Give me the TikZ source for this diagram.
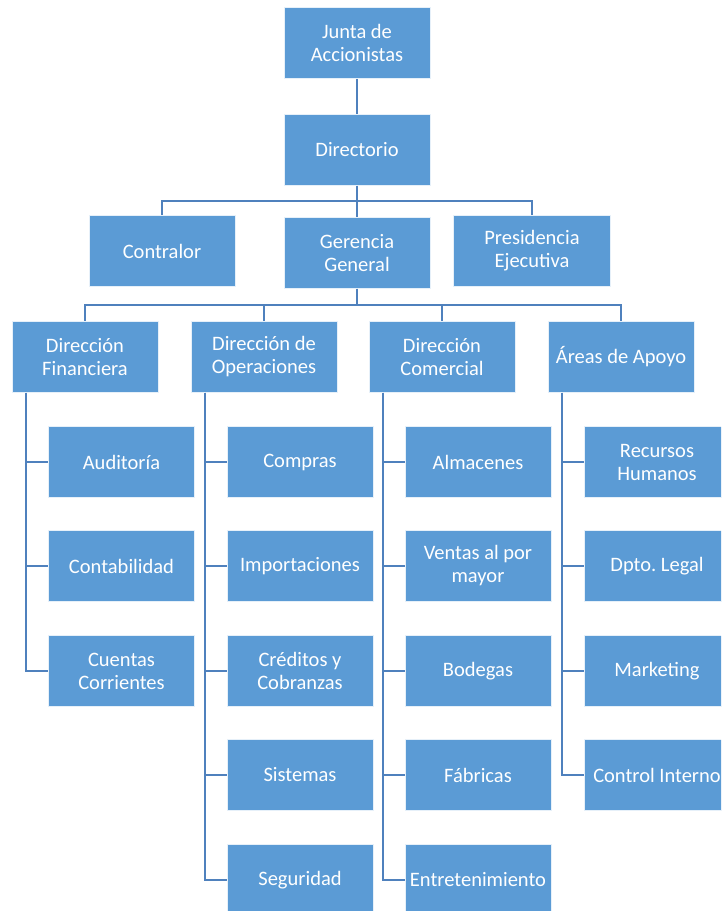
\documentclass[tikz,border=0pt]{standalone}
\usepackage{fontspec}
\setmainfont{Carlito}
\usepackage{tikz}
\usetikzlibrary{positioning}
\frenchspacing

\definecolor{boxblue}{HTML}{5B9BD5}
\definecolor{lineblue}{HTML}{4F81BD}

\tikzset{
  unit/.style={rectangle, fill=boxblue, draw=white!85!boxblue, line width=0.6pt,
    minimum width=146pt, minimum height=71pt, inner sep=2pt, align=center,
    text=white, font=\fontsize{20.5}{23}\selectfont},
  link/.style={draw=lineblue, line width=1.6pt}
}

\begin{document}
\begin{tikzpicture}[x=1pt,y=-1pt]
	\useasboundingbox (0,0) rectangle (721,911);
	\clip (0,0) rectangle (721,911);
	% top levels
	\node[unit] (junta) at (357,43) {Junta de\\Accionistas};
	\node[unit] (directorio) at (357,150) {Directorio};
	\node[unit] (contralor) at (162,251) {Contralor};
	\node[unit] (gerencia) at (357,253) {Gerencia\\General};
	\node[unit, minimum width=157pt] (presidencia) at (532,251) {Presidencia\\Ejecutiva};
	% directions
	\node[unit] (dirfin) at (85,357) {Dirección\\Financiera};
	\node[unit] (dirope) at (264,357) {Dirección de\\Operaciones};
	\node[unit] (dircom) at (442,357) {Dirección\\Comercial};
	\node[unit] (apoyo) at (621,357) {Áreas de Apoyo};
	% children
	\node[unit] (auditoria) at (121.5,462) {Auditoría};
	\node[unit] (contabilidad) at (121.5,566) {Contabilidad};
	\node[unit] (cuentas) at (121.5,671) {Cuentas\\Corrientes};
	\node[unit] (compras) at (300,462) {Compras};
	\node[unit] (importaciones) at (300,566) {Importaciones};
	\node[unit] (creditos) at (300,671) {Créditos y\\Cobranzas};
	\node[unit] (sistemas) at (300,775) {Sistemas};
	\node[unit] (seguridad) at (300,880) {Seguridad};
	\node[unit] (almacenes) at (478,462) {Almacenes};
	\node[unit] (ventas) at (478,566) {Ventas al por\\mayor};
	\node[unit] (bodegas) at (478,671) {Bodegas};
	\node[unit] (fabricas) at (478,775) {Fábricas};
	\node[unit] (entretenimiento) at (478,880) {Entretenimiento};
	\node[unit] (rrhh) at (657,462) {Recursos\\Humanos};
	\node[unit] (legal) at (657,566) {Dpto. Legal};
	\node[unit] (marketing) at (657,671) {Marketing};
	\node[unit] (control) at (657,775) {Control Interno};

	% connectors
	\draw[link] (junta) -- (directorio);
	\draw[link] (directorio.south) -- ++(0,15) -| (contralor.north);
	\draw[link] (directorio.south) -- ++(0,15) -| (presidencia.north);
	\draw[link] (directorio) -- (gerencia);
	\foreach \d in {dirfin,dirope,dircom,apoyo}
		\draw[link] (gerencia.south) -- ++(0,16) -| (\d.north);
	\foreach \c in {auditoria,contabilidad,cuentas}
		\draw[link] ([xshift=14]dirfin.south west) |- (\c.west);
	\foreach \c in {compras,importaciones,creditos,sistemas,seguridad}
		\draw[link] ([xshift=14]dirope.south west) |- (\c.west);
	\foreach \c in {almacenes,ventas,bodegas,fabricas,entretenimiento}
		\draw[link] ([xshift=14]dircom.south west) |- (\c.west);
	\foreach \c in {rrhh,legal,marketing,control}
		\draw[link] ([xshift=14]apoyo.south west) |- (\c.west);
\end{tikzpicture}
\end{document}
